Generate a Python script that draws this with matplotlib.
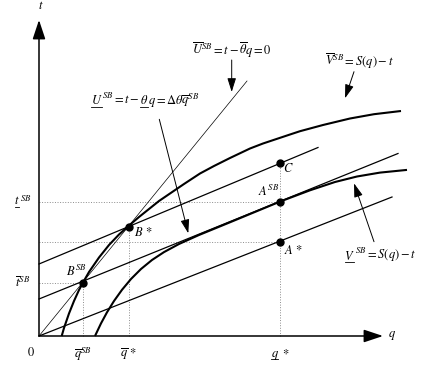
import matplotlib
matplotlib.use("Agg")
import matplotlib.pyplot as plt

plt.rcParams['mathtext.fontset'] = 'stix'
plt.rcParams['font.family'] = ['STIXGeneral', 'DejaVu Serif']

# upper iso-profit curve (V-bar SB)
upper_q = [22.7, 25, 30, 35, 40, 44.3, 50, 60, 70, 80, 89.5, 100, 110, 120, 131,
           145, 161, 175, 191, 211, 224, 251, 261, 284, 311, 335, 362]
upper_t = [0, 8, 22.5, 35, 46, 54, 64, 78.5, 91, 101.5, 110, 119, 127, 135, 142.5,
           152, 162.5, 170, 178, 187.5, 192.5, 201.5, 204.8, 211, 217.5, 221.8, 225]

# lower iso-profit curve (V-underbar SB)
lower_q = [56, 62, 68, 75, 83, 92, 102, 113, 125, 140, 160, 190, 241,
           271, 296, 318, 341, 368]
lower_t = [0, 12.6, 23.7, 35, 46.2, 57, 67, 76, 83.9, 92, 101, 113.3, 134.4,
           145.7, 154, 159.5, 163.4, 166.1]

# straight lines: (q0, t0, q1, t1)
zero_line = (0, 0, 208, 255)          # U-bar SB = 0
low_lines = [(0, 0, 353, 139),        # through A*
             (0, 37, 359, 182.5),     # through B^SB and A^SB
             (0, 72, 279, 188.5)]     # through B* and C

# labelled points
points = {'BSB': (44.3, 53.5), 'Bstar': (89.5, 109.3),
          'ASB': (241, 134.5), 'Astar': (241, 94), 'C': (241, 172.7)}

fig = plt.figure(figsize=(4.26, 3.68), dpi=100)
ax = fig.add_axes([0, 0, 1, 1])
ax.set_xlim(-39, 387)
ax.set_ylim(-32, 336)
ax.axis('off')
renderer = fig.canvas.get_renderer()

fs = 9


def parts_text(xc, yc, parts):
    # draws pieces side by side, underlining the flagged ones
    # (mathtext has no \underline); 1 data unit = 1 pixel here
    widths = []
    for s, _ in parts:
        tmp = ax.text(0, 0, s, fontsize=fs)
        widths.append(tmp.get_window_extent(renderer).width)
        tmp.remove()
    x = xc - sum(widths) / 2
    yb = yc - 3.5
    for (s, ul), w in zip(parts, widths):
        ax.text(x, yb, s, fontsize=fs, ha='left', va='baseline')
        if ul:
            ax.plot([x + 0.5, x + w - 0.5], [yb - 2.5, yb - 2.5], color='black', lw=0.6)
        x += w


# axes with arrows
axis_arrow = dict(arrowstyle='-|>,head_length=0.9,head_width=0.3', lw=1.1,
                  color='black', mutation_scale=13, shrinkA=0, shrinkB=0)
ax.annotate('', xy=(344, 0), xytext=(0, 0), arrowprops=axis_arrow)
ax.annotate('', xy=(0, 316), xytext=(0, 0), arrowprops=axis_arrow)

# dotted guide lines
grey = '#8c8c8c'
for name in ['BSB', 'Bstar', 'C']:
    q, t = points[name]
    ax.plot([q, q], [0, t], ls=':', lw=0.7, color=grey)
for name in ['BSB', 'Astar', 'ASB']:
    q, t = points[name]
    ax.plot([0, q], [t, t], ls=':', lw=0.7, color=grey)

# lines
ax.plot(zero_line[::2], zero_line[1::2], color='black', lw=0.5)
for ln in low_lines:
    ax.plot(ln[::2], ln[1::2], color='black', lw=0.9)

# curves
ax.plot(upper_q, upper_t, color='black', lw=1.5, solid_capstyle='butt')
ax.plot(lower_q, lower_t, color='black', lw=1.5, solid_capstyle='butt')

# points
for q, t in points.values():
    ax.plot(q, t, 'o', color='black', ms=5)

ax.text(37, 65, r'$B^{SB}$', fontsize=fs, ha='center', va='center')
ax.text(104, 104, r'$B\,*$', fontsize=fs, ha='center', va='center')
ax.text(230, 145, r'$A^{SB}$', fontsize=fs, ha='center', va='center')
ax.text(254, 86, r'$A\,*$', fontsize=fs, ha='center', va='center')
ax.text(249, 168, r'$C$', fontsize=fs, ha='center', va='center')

# tick labels
ax.text(-8, -17, '0', fontsize=fs, ha='center', va='center')
ax.text(44.3, -18, r'$\overline{q}^{SB}$', fontsize=fs, ha='center', va='center')
ax.text(89.5, -18, r'$\overline{q}\,*$', fontsize=fs, ha='center', va='center')
parts_text(241, -17, [(r'$q$', True), (r'$\,*$', False)])
parts_text(-16, 135, [(r'$t$', True), (r'$^{SB}$', False)])
ax.text(-16, 53, r'$\overline{t}^{SB}$', fontsize=fs, ha='center', va='center')
ax.text(1.7, 330, r'$t$', fontsize=fs, ha='center', va='center')
ax.text(352.7, 0, r'$q$', fontsize=fs, ha='center', va='center')

# equations with arrows
eq_arrow = dict(arrowstyle='-|>,head_length=0.7,head_width=0.22', lw=0.7,
                color='black', mutation_scale=12, shrinkA=0, shrinkB=0)
ax.text(193, 286, r'$\overline{U}^{SB}=t-\overline{\theta}q=0$', fontsize=fs,
        ha='center', va='center')
ax.annotate('', xy=(192.7, 244), xytext=(192.7, 276), arrowprops=eq_arrow)

ax.text(321, 275, r'$\overline{V}^{SB}=S(q)-t$', fontsize=fs, ha='center', va='center')
ax.annotate('', xy=(306, 237.7), xytext=(315, 264.3), arrowprops=eq_arrow)

parts_text(106, 235, [(r'$U$', True), (r'$^{SB}=t-$', False), (r'$\theta$', True),
                      (r'$q=\Delta\theta\overline{q}^{SB}$', False)])
ax.annotate('', xy=(149.3, 102.7), xytext=(120.3, 216.7), arrowprops=eq_arrow)

parts_text(341, 80, [(r'$V$', True), (r'$^{SB}=S(q)-t$', False)])
ax.annotate('', xy=(315, 152.7), xytext=(335, 94.3), arrowprops=eq_arrow)

fig.savefig('out.png', dpi=100)
